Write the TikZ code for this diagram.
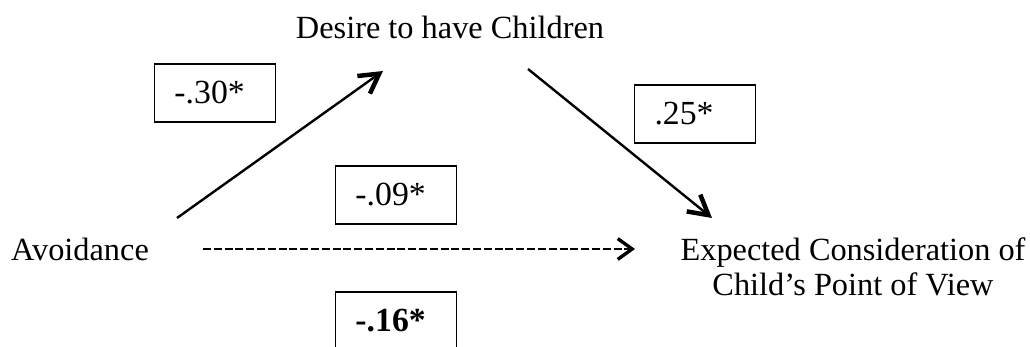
\documentclass[tikz,border=0pt]{standalone}
\usepackage{fontspec}
\setmainfont{Liberation Serif}
\usetikzlibrary{arrows.meta,positioning,calc}

\begin{document}
\begin{tikzpicture}[
    x=0.025cm, y=-0.025cm,
    every node/.style={font=\fontsize{23}{25}\selectfont},
    label/.style={inner sep=0pt, align=center},
    coef/.style={rectangle, draw, line width=0.9pt, minimum height=1.45cm,
        text width=2.025cm, inner xsep=0.5cm, align=left,
        font=\fontsize{24}{25}\selectfont},
    path/.style={line width=1.7pt, -{Straight Barb[length=4.8mm,width=5.4mm,line width=3.2pt]}},
    direct/.style={line width=1.8pt, dash pattern=on 0.2cm off 0.07cm,
        -{Straight Barb[length=3.6mm,width=5.2mm,line width=2.4pt]}}
]
    \useasboundingbox (0,0) rectangle (1030,347);

    % Variables
    \node[label] (avoid) at (80,249) {Avoidance};
    \node[label] (desire) at (450,27.5) {Desire to have Children};
    \node[label] (consid) at (853,266.5) {Expected Consideration of\\Child’s Point of View};

    % Coefficients
    \node[coef] (cAD) at (215,93) {-.30*};
    \node[coef] (cDC) at (695,114) {.25*};
    \node[coef] (cAC) at (396,195) {-.09*};
    \node[coef] (cTot) at (396,321) {\textbf{-.16*}};

    % Paths
    \draw[path] ($(avoid.center)+(97,-31)$) -- ($(desire.center)+(-67,43.5)$);
    \draw[path] ($(desire.center)+(78,41.5)$) -- ($(consid.center)+(-141,-48.5)$);
    \draw[direct] ($(avoid.center)+(123,0)$) -- ($(consid.center)+(-218,-17.5)$);
\end{tikzpicture}
\end{document}
